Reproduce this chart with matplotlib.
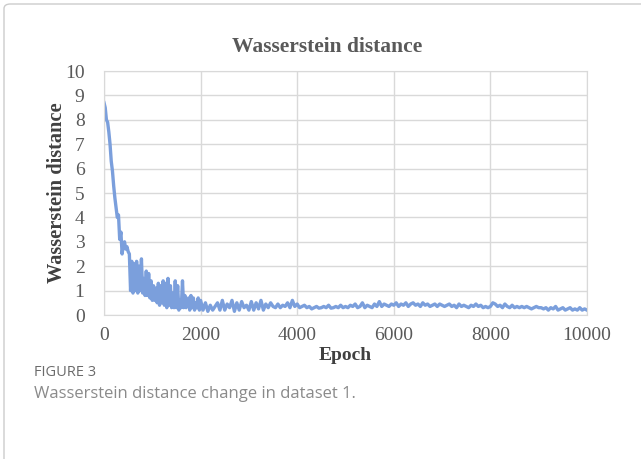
import numpy as np
import matplotlib.pyplot as plt
from matplotlib.patches import FancyBboxPatch

# Wasserstein distance
# first 2000 epochs every 25 epochs, then every 50 epochs up to 10000
early_vals = [8.7, 8.5, 8.0, 7.9, 7.5, 7.0, 6.3, 5.9, 5.3, 4.8,
              4.4, 4.0, 4.1, 3.1, 3.4, 2.5, 2.9, 3.0, 2.7, 2.8,
              2.6, 2.5, 1.0, 2.2, 0.9, 2.1, 1.0, 2.2, 0.9, 2.0,
              1.0, 2.3, 0.9, 1.5, 0.8, 1.8, 0.8, 1.7, 0.7, 1.4,
              0.6, 1.2, 0.6, 1.1, 0.5, 1.3, 0.4, 1.2, 0.5, 1.4,
              0.4, 1.3, 0.3, 1.5, 0.4, 1.2, 0.3, 0.9, 0.3, 1.4,
              0.3, 1.2, 0.2, 0.6, 0.3, 1.4, 0.3, 0.8, 0.3, 0.4,
              0.7, 0.2, 0.8, 0.3, 0.7, 0.2, 0.5, 0.3, 0.7, 0.2,
              0.6]
late_vals = [0.2, 0.5, 0.15, 0.4, 0.2, 0.35, 0.5, 0.2, 0.6, 0.2,
             0.45, 0.3, 0.6, 0.15, 0.5, 0.2, 0.55, 0.3, 0.4, 0.2,
             0.55, 0.2, 0.5, 0.25, 0.6, 0.2, 0.45, 0.3, 0.5, 0.35,
             0.3, 0.45, 0.3, 0.4, 0.35, 0.5, 0.3, 0.6, 0.35, 0.45,
             0.3, 0.35, 0.4, 0.3, 0.35, 0.25, 0.3, 0.35, 0.28, 0.3,
             0.35, 0.3, 0.4, 0.28, 0.3, 0.35, 0.3, 0.4, 0.3, 0.35,
             0.3, 0.4, 0.35, 0.45, 0.3, 0.35, 0.5, 0.3, 0.4, 0.35,
             0.3, 0.45, 0.35, 0.55, 0.35, 0.45, 0.4, 0.35, 0.45, 0.4,
             0.5, 0.35, 0.45, 0.4, 0.5, 0.35, 0.45, 0.5, 0.4, 0.45,
             0.35, 0.5, 0.4, 0.45, 0.35, 0.4, 0.45, 0.35, 0.45, 0.4,
             0.35, 0.4, 0.45, 0.35, 0.4, 0.3, 0.45, 0.35, 0.4, 0.35,
             0.3, 0.4, 0.35, 0.45, 0.35, 0.4, 0.3, 0.35, 0.3, 0.35,
             0.5, 0.45, 0.35, 0.4, 0.3, 0.45, 0.35, 0.3, 0.4, 0.3,
             0.35, 0.3, 0.35, 0.3, 0.35, 0.3, 0.25, 0.3, 0.35, 0.3,
             0.3, 0.25, 0.3, 0.2, 0.3, 0.25, 0.35, 0.2, 0.25, 0.3,
             0.2, 0.25, 0.3, 0.2, 0.25, 0.2, 0.3, 0.2, 0.25, 0.2]
early_epochs = np.arange(0, 2001, 25)
late_epochs = np.arange(2050, 10001, 50)

epochs = np.concatenate([early_epochs, late_epochs])
dist = np.array(early_vals + late_vals)

x_ticks = [0, 2000, 4000, 6000, 8000, 10000]
y_ticks = list(range(0, 11))

plt.rcParams['font.family'] = ['Liberation Serif', 'DejaVu Serif']

fig = plt.figure(figsize=(6.41, 4.59), dpi=100)

# outer frame
fig.patches.append(FancyBboxPatch((4 / 641, -0.05), 1.05, 1.05 - 4 / 459,
                                  boxstyle='round,pad=0,rounding_size=0.01',
                                  transform=fig.transFigure, fill=False,
                                  edgecolor='#cccccc', linewidth=1.0))

ax = fig.add_axes([104 / 641, 1 - 315 / 459, (587 - 104) / 641, (315 - 71) / 459])
ax.plot(epochs, dist, color='#7b9fdc', linewidth=2.4)

ax.set_xlim(0, 10000)
ax.set_ylim(0, 10)
ax.set_xticks(x_ticks)
ax.set_yticks(y_ticks)
ax.grid(True, color='#d9d9d9', linewidth=1.0)
ax.set_axisbelow(True)
for s in ax.spines.values():
    s.set_color('#d9d9d9')
ax.tick_params(length=0, labelsize=14, colors='#595959')
ax.tick_params(axis='y', pad=14)
ax.tick_params(axis='x', pad=9)

fig.text(327 / 641, 1 - 47 / 459, 'Wasserstein distance', fontsize=15.5,
         fontweight='bold', color='#595959', ha='center', va='center')
ax.set_xlabel('Epoch', fontsize=14, fontweight='bold', color='#404040', labelpad=2)
ax.set_ylabel('Wasserstein distance', fontsize=14.7, fontweight='bold',
              color='#404040', labelpad=0)
ax.yaxis.set_label_coords(-37 / 483, 0.5)

fig.text(34 / 641, 1 - 373 / 459, 'FIGURE 3', family='Open Sans', fontsize=10.5,
         color='#6b6b6b', va='center')
fig.text(34 / 641, 1 - 394 / 459, 'Wasserstein distance change in dataset 1.',
         family='Open Sans', fontsize=12, color='#8a8a8a', va='center')

fig.savefig('out.png', dpi=100)
